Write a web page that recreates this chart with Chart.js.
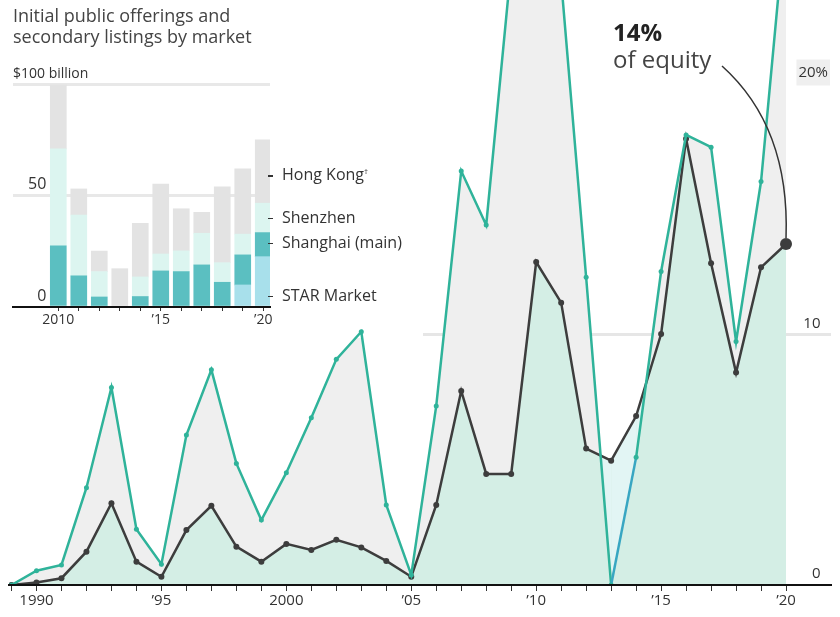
<!DOCTYPE html>
<html>
<head>
<meta charset="utf-8">
<script src="https://cdn.jsdelivr.net/npm/chart.js@4.4.0/dist/chart.umd.min.js"></script>
<style>
  body { margin: 0; background: #fff; }
  #wrap { position: relative; width: 840px; height: 617px; overflow: hidden; font-family: 'Open Sans', sans-serif; }
  #main, #inset { position: absolute; left: 0; top: 0; }
  .title { position: absolute; left: 13px; top: 5px; font-size: 18px; line-height: 21px; color: #444; }
  .unit { position: absolute; left: 13px; top: 63px; font-size: 14px; line-height: 20px; color: #333; }
  .lg { position: absolute; left: 268px; font-size: 16px; line-height: 20px; color: #333; white-space: nowrap; }
  .lg i { display: inline-block; width: 5px; height: 1.5px; background: #333; vertical-align: middle; margin-right: 9px; }
</style>
</head>
<body>
<div id="wrap">
  <canvas id="main" width="840" height="617"></canvas>
  <canvas id="inset" width="420" height="340"></canvas>
  <div class="title">Initial public offerings and<br>secondary listings by market</div>
  <div class="unit">$100 billion</div>
  <div class="lg" style="top:161px"><i></i>Hong Kong<sup style="font-size:8px">†</sup></div>
  <div class="lg" style="top:207px"><i></i>Shenzhen</div>
  <div class="lg" style="top:232px"><i></i>Shanghai (main)</div>
  <div class="lg" style="top:285px"><i></i>STAR Market</div>
</div>
<script>
// main chart: yearly shares, %
const years = [1989, 1990, 1991, 1992, 1993, 1994, 1995, 1996, 1997, 1998, 1999,
  2000, 2001, 2002, 2003, 2004, 2005, 2006, 2007, 2008, 2009,
  2010, 2011, 2012, 2013, 2014, 2015, 2016, 2017, 2018, 2019, 2020];
const listingShare = [0, 0.57, 0.8, 3.88, 7.88, 2.22, 0.83, 5.98, 8.58, 4.85, 2.59,
  4.48, 6.67, 9.0, 10.1, 3.19, 0.4, 7.14, 16.51, 14.36, 24.7,
  27, 24.1, 12.27, 0, 5.09, 12.5, 17.95, 17.46, 9.71, 16.09, 26.8];
const equityShare = [0, 0.1, 0.27, 1.33, 3.26, 0.93, 0.33, 2.19, 3.16, 1.53, 0.93,
  1.64, 1.4, 1.8, 1.5, 0.96, 0.33, 3.19, 7.74, 4.43, 4.43,
  12.88, 11.26, 5.44, 4.96, 6.74, 10.01, 17.8, 12.83, 8.47, 12.67, 13.6];
const mainTicks = [0, 10, 20];

// inset: $ billion raised by market
const insetYears = [2010, 2011, 2012, 2013, 2014, 2015, 2016, 2017, 2018, 2019, 2020];
const starMarket = [0, 0, 0, 0, 0, 0, 0, 0, 0, 9.9, 22.6];
const shanghaiMain = [27.5, 14, 4.5, 0, 4.7, 16.2, 15.9, 18.9, 11.1, 13.5, 10.8];
const shenzhen = [43.5, 27.3, 11.4, 0, 8.8, 7.6, 9.3, 14.2, 8.8, 9.3, 13.2];
const hongKong = [28.7, 11.7, 9.2, 17.2, 24.1, 31.4, 18.9, 9.4, 34.1, 29.3, 28.4];
const insetTicks = [0, 50, 100];

const GREEN = '#2fb39a';
const DARK = '#3d3d3d';
const MINT = '#d4eee5';
const GREY_FILL = '#efefef';
const FONT = "'Open Sans', sans-serif";

// short year labels: 1990, '95, 2000, '05 ...
function mainYearLabel(v) {
  if (v === 1990 || v === 2000) return String(v);
  if (v % 5 === 0) return '\u2019' + String(v).slice(2);
  return '';
}
function insetYearLabel(v) {
  if (v === 2010) return '2010';
  if (v % 5 === 0) return '\u2019' + String(v).slice(2);
  return '';
}
// no extra room for edge labels
function noScalePadding(s) {
  s.paddingTop = 0; s.paddingBottom = 0; s.paddingLeft = 0; s.paddingRight = 0;
}

// white backing for the inset panel, over the gridlines but under the lines
const panelPlugin = {
  id: 'panel',
  beforeDatasetsDraw(chart) {
    const ctx = chart.ctx;
    ctx.save();
    ctx.fillStyle = '#fff';
    ctx.fillRect(0, 0, 423, 338);
    ctx.restore();
  }
};

const calloutPlugin = {
  id: 'callout',
  afterDatasetsDraw(chart) {
    const ctx = chart.ctx;
    const meta = chart.getDatasetMeta(1);
    const last = meta.data[meta.data.length - 1];
    ctx.save();
    ctx.textBaseline = 'alphabetic';
    ctx.fillStyle = '#222';
    ctx.font = 'bold 24px ' + FONT;
    ctx.fillText(Math.round(equityShare[equityShare.length - 1]) + '%', 613, 41);
    ctx.fillStyle = '#444';
    ctx.font = '24px ' + FONT;
    ctx.fillText('of equity', 613, 68);
    ctx.strokeStyle = '#333';
    ctx.lineWidth = 1.5;
    ctx.beginPath();
    ctx.moveTo(722, 66);
    ctx.quadraticCurveTo(790, 127, last.x, last.y - 6);
    ctx.stroke();
    ctx.restore();
  }
};

new Chart(document.getElementById('main'), {
  type: 'line',
  data: {
    datasets: [
      {
        label: 'listings',
        data: years.map((y, i) => ({ x: y, y: listingShare[i] })),
        borderColor: GREEN,
        borderWidth: 2.5,
        pointRadius: 2.5,
        pointBorderWidth: 0,
        pointBackgroundColor: GREEN,
        tension: 0,
        segment: { borderColor: c => c.p0.parsed.x === 2013 ? '#38a6c2' : undefined },
        fill: { target: 1, above: GREY_FILL, below: '#e2f5f4' },
        order: 0
      },
      {
        label: 'equity',
        data: years.map((y, i) => ({ x: y, y: equityShare[i] })),
        borderColor: DARK,
        borderWidth: 2.5,
        pointRadius: ctx => ctx.dataIndex === years.length - 1 ? 6 : 3,
        pointBorderWidth: 0,
        pointBackgroundColor: DARK,
        tension: 0,
        fill: { target: 'origin', above: MINT },
        order: 1
      }
    ]
  },
  options: {
    responsive: false,
    animation: false,
    layout: { autoPadding: false, padding: { left: 9, right: 9, top: 0, bottom: 0 } },
    plugins: {
      legend: { display: false },
      tooltip: { enabled: false },
      filler: { drawTime: 'beforeDatasetsDraw' }
    },
    scales: {
      x: {
        type: 'linear',
        min: 1988.9,
        max: 2021.8,
        afterBuildTicks: s => { s.ticks = years.map(v => ({ value: v })); },
        afterFit: s => { s.height = 32; noScalePadding(s); },
        grid: { drawOnChartArea: false, drawTicks: true, tickLength: 6, tickColor: '#333', tickWidth: 1 },
        border: { color: '#111', width: 2, z: 1 },
        ticks: {
          autoSkip: false, maxRotation: 0, padding: 1,
          callback: v => mainYearLabel(v),
          font: { family: FONT, size: 15 }, color: '#333'
        }
      },
      y: {
        position: 'right',
        min: 0,
        max: 23.33,
        afterBuildTicks: s => { s.ticks = mainTicks.map(v => ({ value: v })); },
        afterFit: s => { s.width = 0; noScalePadding(s); },
        grid: {
          color: c => c.tick && c.tick.value === 10 ? '#e6e6e6' : 'rgba(0,0,0,0)',
          lineWidth: 3,
          drawTicks: false
        },
        border: { display: false },
        ticks: {
          mirror: true,
          padding: -3,
          labelOffset: -11,
          callback: v => v === 20 ? '20%' : v + '\u2002',
          showLabelBackdrop: c => c.tick.value === 20,
          backdropColor: GREY_FILL,
          backdropPadding: { x: 2, y: 4 },
          font: { family: FONT, size: 15 }, color: '#333'
        }
      }
    }
  },
  plugins: [panelPlugin, calloutPlugin]
});

const insetSets = [
  ['STAR Market', starMarket, '#a8e0eb'],
  ['Shanghai (main)', shanghaiMain, '#5bbfc1'],
  ['Shenzhen', shenzhen, '#dcf5f0'],
  ['Hong Kong', hongKong, '#e3e3e3']
];

new Chart(document.getElementById('inset'), {
  type: 'bar',
  data: {
    datasets: insetSets.map(([label, vals, color]) => ({
      label: label,
      data: insetYears.map((y, i) => ({ x: y, y: vals[i] })),
      backgroundColor: color,
      borderWidth: 0,
      barThickness: 16
    }))
  },
  options: {
    responsive: false,
    animation: false,
    layout: { autoPadding: false, padding: { left: 13, right: 150, top: 80, bottom: 0 } },
    plugins: { legend: { display: false }, tooltip: { enabled: false } },
    scales: {
      x: {
        type: 'linear',
        stacked: true,
        offset: false,
        min: 2007.79,
        max: 2020.33,
        afterBuildTicks: s => { s.ticks = insetYears.map(v => ({ value: v })); },
        afterFit: s => { s.height = 33; noScalePadding(s); },
        grid: { offset: false, drawOnChartArea: false, drawTicks: true, tickLength: 4, tickColor: '#333' },
        border: { color: '#111', width: 2, z: 1 },
        ticks: {
          autoSkip: false, maxRotation: 0, padding: 1,
          callback: v => insetYearLabel(v),
          font: { family: FONT, size: 14 }, color: '#333'
        }
      },
      y: {
        stacked: true,
        min: 0,
        max: 101.9,
        afterBuildTicks: s => { s.ticks = insetTicks.map(v => ({ value: v })); },
        afterFit: s => { s.width = 0; noScalePadding(s); },
        grid: {
          color: c => c.tick && c.tick.value === 0 ? 'rgba(0,0,0,0)' : '#e8e8e8',
          lineWidth: 3,
          drawTicks: false
        },
        border: { display: false },
        ticks: {
          mirror: true,
          crossAlign: 'far',
          padding: 15,
          labelOffset: -11,
          callback: v => v === 100 ? '' : String(v),
          font: { family: FONT, size: 16 }, color: '#333'
        }
      }
    }
  }
});
</script>
</body>
</html>
